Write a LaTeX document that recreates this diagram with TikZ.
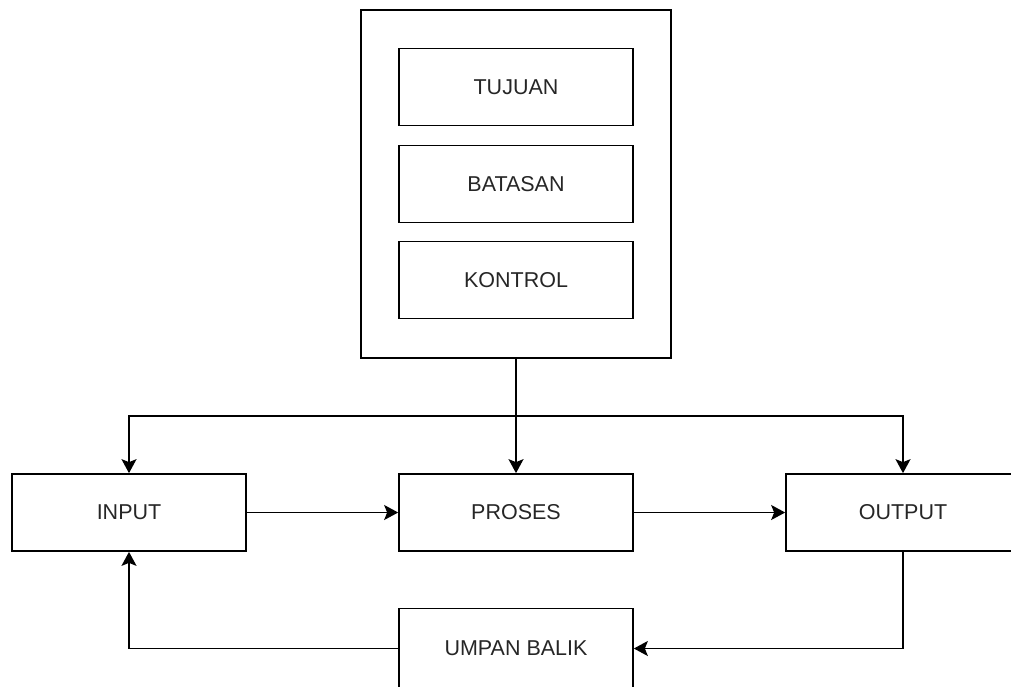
\documentclass[tikz,border=0pt]{standalone}
\usepackage{fontspec}
\setmainfont{Liberation Sans}
\usetikzlibrary{arrows.meta}
\tikzset{
  blk/.style={draw, line width=1.7pt, minimum width=234pt, minimum height=77pt, inner sep=0pt, font=\fontsize{21.5}{25}\selectfont, text=black!85},
  arr/.style={line width=1.7pt, -{Stealth[length=14pt,width=15pt,inset=3pt]}}
}
\begin{document}
\begin{tikzpicture}[x=1pt,y=-1pt]
\useasboundingbox (0,0) rectangle (1011,686);
\clip (0,0) rectangle (1011,686);
\node[blk, minimum width=310pt, minimum height=348pt] (sys) at (516,184) {};
\node[blk] (tujuan) at (516,87) {TUJUAN};
\node[blk] (batasan) at (516,184) {BATASAN};
\node[blk] (kontrol) at (516,280) {KONTROL};
\node[blk] (input) at (129,512.5) {INPUT};
\node[blk] (proses) at (516,512.5) {PROSES};
\node[blk] (output) at (903,512.5) {OUTPUT};
\node[blk, minimum height=80pt] (umpan) at (516,648.5) {UMPAN BALIK};
\coordinate (j) at (516,416);
\draw[arr] (sys.south) -- (proses.north);
\draw[arr] (j) -| (input.north);
\draw[arr] (j) -| (output.north);
\draw[arr] (input.east) -- (proses.west);
\draw[arr] (proses.east) -- (output.west);
\draw[arr] (output.south) |- (umpan.east);
\draw[arr] (umpan.west) -| (input.south);
\end{tikzpicture}
\end{document}
